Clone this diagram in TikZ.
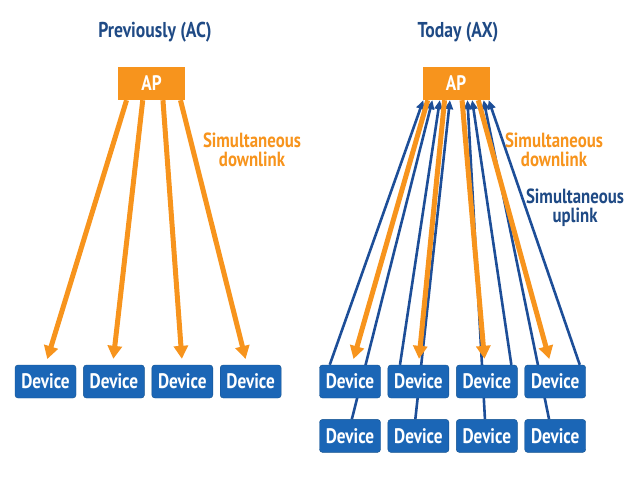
\documentclass[tikz,border=0pt]{standalone}
\usepackage{fontspec}
\setmainfont{PT Sans}[FakeStretch=0.82]
\usetikzlibrary{arrows.meta,positioning,calc,backgrounds}
\definecolor{navy}{HTML}{1F4A85}
\definecolor{apor}{HTML}{F7941D}
\definecolor{devblue}{HTML}{1B66B6}
\definecolor{devline}{HTML}{13528F}
\definecolor{upblue}{HTML}{1D4E98}

\begin{document}
\begin{tikzpicture}[x=1pt,y=1pt,node distance=21pt and 7pt,
 dev/.style={draw=devline,fill=devblue,rounded corners=3pt,minimum width=61pt,minimum height=33pt,inner sep=0pt,text=white,font=\fontsize{21}{21}\selectfont\bfseries},
 ap/.style={fill=apor,minimum width=67pt,minimum height=33pt,inner sep=0pt,text=white,font=\fontsize{21}{21}\selectfont\bfseries},
 ttl/.style={text=navy,font=\fontsize{21.5}{22}\selectfont\bfseries},
 lbl/.style={align=center,font=\fontsize{20.5}{19}\selectfont\bfseries},
 dl/.style={-{Triangle[length=13pt,width=14pt]},line width=5pt,color=apor,shorten >=6pt},
 ul/.style={-{Triangle[length=9pt,width=8pt]},line width=2.6pt,color=upblue}]
 \useasboundingbox (0,0) rectangle (640,-480);
 % titles and access points
 \node[ttl] (prev) at (155,-32) {Previously (AC)};
 \node[ttl] (today) at (458,-32) {Today (AX)};
 \node[ap] (apl) at (151.5,-83.5) {AP};
 \node[ap] (apr) at (456,-83.5) {AP};
 % devices, left
 \node[dev] (l1) at (45.5,-381.5) {Device};
 \node[dev,right=of l1] (l2) {Device};
 \node[dev,right=of l2] (l3) {Device};
 \node[dev,right=of l3] (l4) {Device};
 % devices, right
 \node[dev] (a1) at (350,-381.5) {Device};
 \node[dev,right=of a1] (a2) {Device};
 \node[dev,right=of a2] (a3) {Device};
 \node[dev,right=of a3] (a4) {Device};
 \node[dev,below=of a1] (b1) {Device};
 \node[dev,below=of a2] (b2) {Device};
 \node[dev,below=of a3] (b3) {Device};
 \node[dev,below=of a4] (b4) {Device};
 % labels
 \node[lbl,text=apor] (dnl) at (252,-150) {Simultaneous\\downlink};
 \node[lbl,text=apor] (dnr) at (554,-150) {Simultaneous\\downlink};
 \node[lbl,text=navy] (upr) at (575,-208) {Simultaneous\\uplink};
 \begin{scope}[on background layer]
  \foreach \d/\a/\b in {l1/0.13/0.5,l2/0.37/0.48,l3/0.67/0.5,l4/0.93/0.44}
   \draw[dl] ($(apl.south west)!\a!(apl.south east)$) -- ($(\d.north west)!\b!(\d.north east)$);
  \foreach \d/\a/\b in {a1/0.015/0.17,a2/0.26/0.2,a3/0.74/0.9,a4/0.985/0.9,b1/0.15/0.53,b2/0.41/0.45,b3/0.67/0.47,b4/0.91/0.4}
   \draw[ul] ($(\d.north west)!\b!(\d.north east)$) -- ($(apr.south west)!\a!(apr.south east)$);
  \foreach \d/\a/\b in {a1/0.08/0.53,a2/0.33/0.5,a3/0.59/0.47,a4/0.83/0.43}
   \draw[dl] ($(apr.south west)!\a!(apr.south east)$) -- ($(\d.north west)!\b!(\d.north east)$);
 \end{scope}
\end{tikzpicture}
\end{document}
